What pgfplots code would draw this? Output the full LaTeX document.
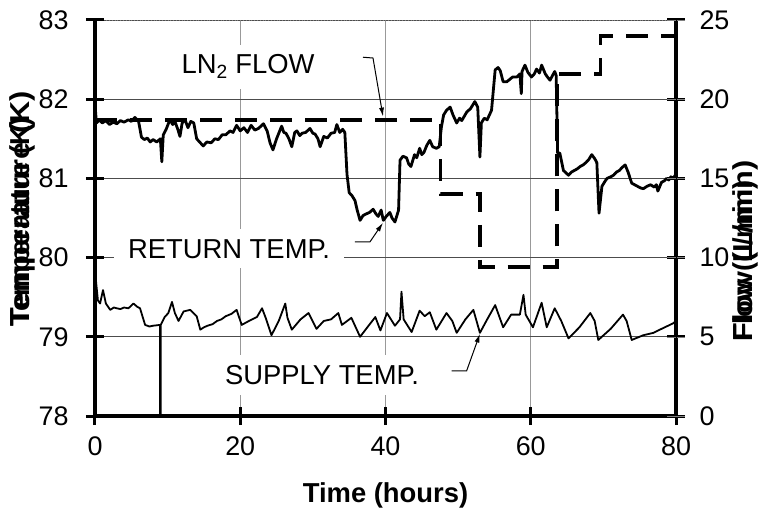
\documentclass[border=0pt]{standalone}
\usepackage{fontspec}
\setmainfont{Liberation Sans}
\usepackage{pgfplots}
\pgfplotsset{compat=1.18}
\usetikzlibrary{arrows.meta,calc}

\pgfplotsset{
  dual/.style={
    scale only axis, width=581bp, height=396bp,
    xmin=0, xmax=80,
    tick align=center, major tick length=18bp,
    minor tick num=0,
    /pgf/number format/assume math mode=true,
    ticklabel style={font=\fontsize{27}{31}\selectfont},
    label style={font=\fontsize{27.5}{31}\selectfont\bfseries},
  },
}
\tikzset{
  note/.style={font=\fontsize{27.5}{31}\selectfont, fill=white, inner xsep=14bp, inner ysep=10bp},
  pointer/.style={line width=1bp, -{Latex[length=9bp,width=5bp]}},
  heavy/.style={line width=4.3bp, black},
  tk/.style={line width=3bp, black},
}

\begin{document}
\begin{tikzpicture}
\begin{axis}[
  ymin=78, ymax=83,
  axis y line*=left, axis x line*=bottom,
  dual, clip=false,
  xtick={0,20,40,60,80}, ytick={78,79,80,81,82,83},
  xmajorgrids, ymajorgrids,
  x grid style={line width=1.2bp, black!40},
  y grid style={line width=0.9bp, black!70},
  xticklabel style={yshift=-8bp},
  yticklabel style={xshift=-14bp},
  xlabel={Time (hours)},
  xlabel style={yshift=-20bp},
]
  \coordinate (bl) at (rel axis cs:0,0);
  \coordinate (tr) at (rel axis cs:1,1);
  \draw[black!50, line width=0.8bp, dotted] (rel axis cs:0,1) -- (rel axis cs:1,1);

  % labels with white boxes
  \node[note] at (axis cs:21.07,82.41) {LN\textsubscript{2} FLOW};
  \node[note] at (axis cs:18.45,80.11) {RETURN TEMP.};
  \node[note] at (axis cs:31.26,78.52) {SUPPLY TEMP.};

  % return temperature
  \addplot[black, line width=2.8bp, line join=round] coordinates {
    (0,81.93) (0.2,81.70) (0.6,81.74) (1.0,81.70) (1.5,81.73) (2.0,81.68)
    (2.5,81.71) (3.0,81.69) (3.5,81.73) (4.0,81.71) (4.6,81.74) (5.0,81.72)
    (5.5,81.77) (6.0,81.72) (6.4,81.52) (6.8,81.49) (7.2,81.51) (7.6,81.46)
    (8.0,81.49) (8.5,81.46) (9.0,81.50) (9.2,81.21) (9.4,81.55) (9.8,81.62)
    (10.3,81.74) (10.7,81.68) (11.0,81.72) (11.4,81.62) (11.7,81.53) (12.0,81.70)
    (12.4,81.74) (12.8,81.64) (13.2,81.72) (13.6,81.70) (14.0,81.50) (14.5,81.45)
    (14.9,81.41) (15.4,81.46) (16.0,81.45) (16.5,81.50) (17.0,81.49) (17.5,81.55)
    (18.0,81.55) (18.6,81.60) (19.0,81.58) (19.5,81.67) (20.0,81.60) (20.5,81.64)
    (21.0,81.58) (21.5,81.67) (22.0,81.61) (22.5,81.63) (23.2,81.69) (23.7,81.60)
    (24.1,81.45) (24.5,81.36) (25.0,81.50) (25.7,81.66) (26.0,81.58) (26.3,81.57)
    (26.7,81.50) (27.1,81.40) (27.5,81.58) (27.8,81.60) (28.2,81.54) (28.5,81.57)
    (29.0,81.58) (29.6,81.63) (30.0,81.57) (30.3,81.56) (30.7,81.50) (31.0,81.40)
    (31.5,81.53) (32.0,81.51) (32.5,81.57) (33.0,81.58) (33.3,81.68) (33.7,81.58)
    (34.1,81.62) (34.4,81.58) (34.7,81.05) (35.0,80.82) (35.4,80.78) (35.8,80.72)
    (36.1,80.60) (36.5,80.47) (36.9,80.53) (37.3,80.55) (37.8,80.57) (38.3,80.61)
    (38.7,80.55) (39.0,80.52) (39.4,80.60) (39.7,80.47) (40.1,80.52) (40.6,80.57)
    (40.9,80.50) (41.3,80.45) (41.8,80.60) (42.0,81.23) (42.4,81.28) (42.9,81.26)
    (43.2,81.18) (43.5,81.15) (44.0,81.30) (44.3,81.26) (44.7,81.38) (45.0,81.30)
    (45.3,81.33) (45.7,81.42) (46.1,81.48) (46.5,81.40) (47.0,81.38) (47.4,81.40)
    (47.7,81.65) (48.0,81.80) (48.4,81.86) (48.9,81.90) (49.3,81.80) (49.8,81.70)
    (50.2,81.76) (50.5,81.73) (51.2,81.84) (51.7,81.88) (52.3,81.97) (52.7,81.90)
    (53.0,81.27) (53.2,81.70) (53.6,81.76) (54.0,81.74) (54.6,81.86) (55.1,82.37)
    (55.5,82.40) (55.8,82.36) (56.2,82.22) (56.7,82.22) (57.1,82.25) (57.5,82.28)
    (58.1,82.28) (58.5,82.32) (58.7,82.07) (58.8,82.35) (59.2,82.43) (59.6,82.34)
    (60.1,82.28) (60.5,82.32) (60.8,82.38) (61.2,82.33) (61.5,82.43) (62.0,82.32)
    (62.3,82.28) (62.65,82.24) (63.0,82.30) (63.3,82.35) (63.5,82.30) (63.7,81.32)
    (64.0,81.32) (64.5,81.10) (65.2,81.04) (65.6,81.08) (66.0,81.10) (66.4,81.12)
    (66.8,81.15) (67.2,81.17) (67.6,81.20) (68.0,81.24) (68.4,81.30) (68.8,81.25)
    (69.1,81.20) (69.4,80.56) (69.8,80.90) (70.2,80.96) (70.5,81.00) (71.0,81.02)
    (71.4,81.04) (71.8,81.08) (72.2,81.10) (72.6,81.14) (73.0,81.17) (73.4,81.08)
    (73.9,80.94) (74.3,80.92) (74.7,80.90) (75.1,80.88) (75.5,80.87) (76.0,80.90)
    (76.5,80.92) (77.0,80.89) (77.3,80.92) (77.5,80.84) (78.0,80.95) (78.4,80.97)
    (78.7,81.00) (79.0,80.98) (79.3,81.02) (79.6,81.00) (79.9,81.04)
  };

  % supply temperature
  \addplot[black, line width=1.8bp, line join=round] coordinates {
    (0,79.40) (0.1,79.74) (0.4,79.46) (0.7,79.42) (1.1,79.59) (1.5,79.42)
    (2.1,79.34) (2.6,79.37) (3.0,79.36) (3.5,79.35) (4.0,79.37) (4.6,79.36)
    (5.3,79.42) (5.8,79.38) (6.2,79.36) (6.9,79.15) (7.5,79.13) (8.0,79.14)
    (8.95,79.15) (8.95,78.01) (9.05,78.01) (9.05,79.15) (9.6,79.25) (10.1,79.30)
    (10.6,79.44) (11.0,79.30) (11.5,79.20) (12.2,79.32) (13.1,79.34) (14.0,79.26)
    (14.5,79.09) (15.0,79.12) (15.5,79.14) (16.2,79.16) (16.8,79.20) (17.4,79.22)
    (18.0,79.26) (18.8,79.29) (19.5,79.34) (20.2,79.15) (21.2,79.20) (22.3,79.25)
    (23.0,79.36) (23.5,79.24) (24.3,79.02) (25.3,79.20) (26.2,79.42) (26.5,79.24)
    (27.1,79.09) (28.3,79.22) (29.4,79.30) (30.5,79.10) (31.5,79.20) (32.5,79.22)
    (33.5,79.30) (34.0,79.15) (35.3,79.24) (36.5,79.00) (37.5,79.12) (38.6,79.25)
    (39.3,79.08) (40.2,79.30) (41.3,79.14) (42.0,79.22) (42.2,79.57) (42.5,79.22)
    (43.6,79.06) (44.7,79.33) (45.4,79.26) (46.1,79.31) (47.0,79.09) (48.4,79.30)
    (49.2,79.20) (49.8,79.05) (51.0,79.22) (52.1,79.34) (53.0,79.05) (54.0,79.22)
    (55.1,79.40) (56.2,79.12) (57.3,79.28) (58.5,79.28) (59.0,79.53) (59.3,79.28)
    (60.3,79.12) (61.5,79.43) (62.2,79.12) (63.3,79.36) (64.2,79.20) (65.2,78.98)
    (66.7,79.12) (68.2,79.30) (68.8,79.20) (69.3,78.96) (71.0,79.10) (72.7,79.28)
    (73.2,79.20) (73.9,78.96) (75.5,79.02) (76.9,79.05) (78.0,79.10) (79.6,79.17)
    (80.0,79.20)
  };

  % pointers
  \draw[pointer] (axis cs:36.90,82.53) -- (axis cs:38.28,82.52) -- (axis cs:39.66,81.78);
  \draw[pointer] (axis cs:35.80,80.20) -- (axis cs:37.87,80.20) -- (axis cs:39.66,80.44);
  \draw[pointer] (axis cs:49.12,78.57) -- (axis cs:51.17,78.57) -- (axis cs:53.01,79.04);

  % heavy axis lines and centred ticks
  \draw[heavy] (rel axis cs:0,1) -- (rel axis cs:0,0) -- (rel axis cs:1,0) -- (rel axis cs:1,1);
  \pgfplotsinvokeforeach{0,0.2,0.4,0.6,0.8,1}{
    \draw[tk] ([xshift=-9bp]rel axis cs:0,#1) -- ([xshift=9bp]rel axis cs:0,#1);
    \draw[tk] ([xshift=-9bp]rel axis cs:1,#1) -- ([xshift=9bp]rel axis cs:1,#1);
  }
  \pgfplotsinvokeforeach{0,0.25,0.5,0.75,1}{
    \draw[tk] ([yshift=-9bp]rel axis cs:#1,0) -- ([yshift=9bp]rel axis cs:#1,0);
  }
\end{axis}

\begin{axis}[
  ymin=0, ymax=25,
  axis y line*=right, axis x line=none,
  dual,
  ytick={0,5,10,15,20,25},
  yticklabel style={xshift=11bp},
]
  % LN2 flow
  \addplot[black, line width=3.5bp, const plot, dash pattern=on 22bp off 13bp] coordinates {
    (0,18.7) (47.6,14.0) (53.0,9.4) (63.6,21.6) (69.6,24.0) (80,24.0)
  };
\end{axis}

% y labels, printed twice as in the source image
\node[rotate=90, anchor=west, font=\fontsize{27.5}{31}\selectfont\bfseries]
  at ($(bl)+(-73bp,86bp)$) {Temperature (K)};
\node[rotate=90, xscale=1.12, anchor=west, font=\fontsize{27.5}{31}\selectfont\bfseries]
  at ($(bl)+(-73bp,86bp)$) {Temperature (K)};
\node[rotate=90, anchor=west, font=\fontsize{27.5}{31}\selectfont\bfseries]
  at ($(tr)+(69bp,-325bp)$) {Flow (L/min)};
\node[rotate=90, xscale=1.12, anchor=west, font=\fontsize{27.5}{31}\selectfont\bfseries]
  at ($(tr)+(69bp,-325bp)$) {Flow (L/min)};

\pgfresetboundingbox
\path ($(bl)+(-95bp,-92bp)$) rectangle ($(tr)+(89bp,20bp)$);
\end{tikzpicture}
\end{document}
